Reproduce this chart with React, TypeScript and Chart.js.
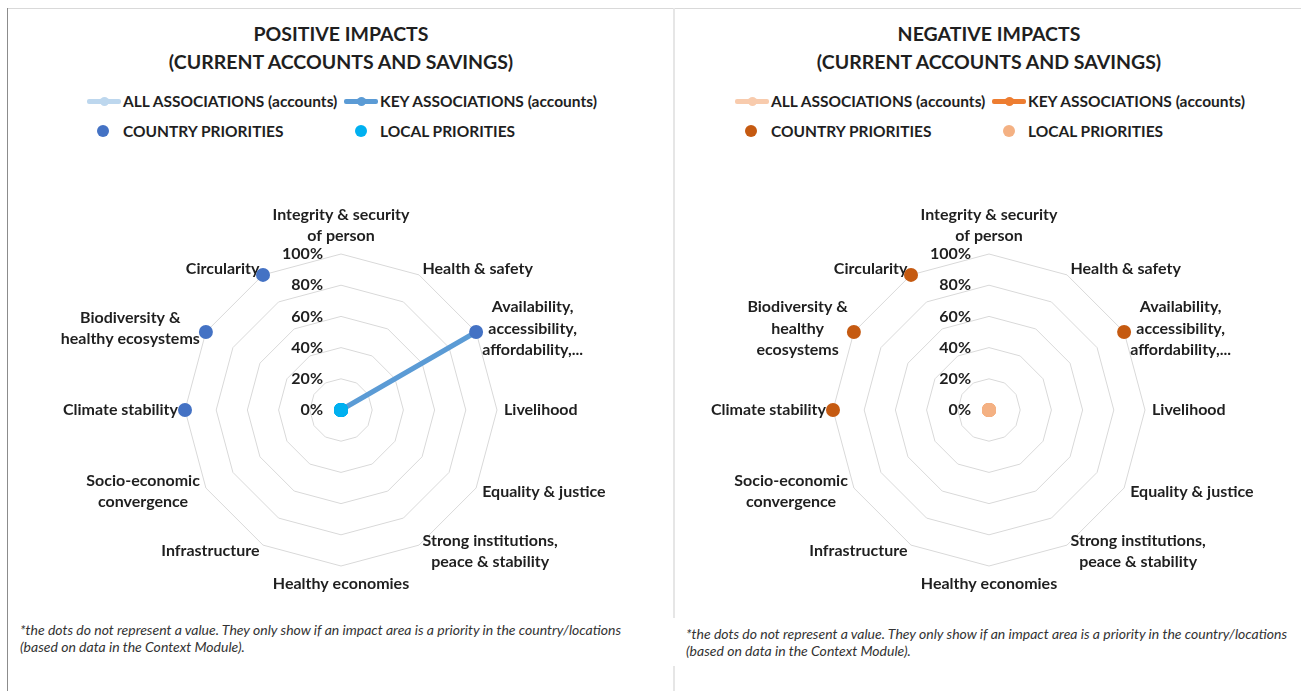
import React, { useEffect, useRef } from "react";
import { Chart, registerables } from "chart.js";

Chart.register(...registerables);

// ---------- data ----------
const CATEGORIES = [
  "Integrity & security of person",
  "Health & safety",
  "Availability, accessibility, affordability,...",
  "Livelihood",
  "Equality & justice",
  "Strong institutions, peace & stability",
  "Healthy economies",
  "Infrastructure",
  "Socio-economic convergence",
  "Climate stability",
  "Biodiversity & healthy ecosystems",
  "Circularity",
];

const LABEL_LINES_POS = [
  ["Integrity & security", "of person"],
  ["Health & safety"],
  ["Availability,", "accessibility,", "affordability,..."],
  ["Livelihood"],
  ["Equality & justice"],
  ["Strong institutions,", "peace & stability"],
  ["Healthy economies"],
  ["Infrastructure"],
  ["Socio-economic", "convergence"],
  ["Climate stability"],
  ["Biodiversity &", "healthy ecosystems"],
  ["Circularity"],
];

const LABEL_LINES_NEG = [
  ["Integrity & security", "of person"],
  ["Health & safety"],
  ["Availability,", "accessibility,", "affordability,..."],
  ["Livelihood"],
  ["Equality & justice"],
  ["Strong institutions,", "peace & stability"],
  ["Healthy economies"],
  ["Infrastructure"],
  ["Socio-economic", "convergence"],
  ["Climate stability"],
  ["Biodiversity &", "healthy", "ecosystems"],
  ["Circularity"],
];

const TICK_VALUES = [0, 20, 40, 60, 80, 100];
const TICK_LABELS = ["0%", "20%", "40%", "60%", "80%", "100%"];

const SERIES_NAMES = [
  "ALL ASSOCIATIONS (accounts)",
  "KEY ASSOCIATIONS (accounts)",
  "COUNTRY PRIORITIES",
  "LOCAL PRIORITIES",
];

const POS_ALL = [0, 0, 0, 0, 0, 0, 0, 0, 0, 0, 0, 0];
const POS_KEY = [0, 0, 100, 0, 0, 0, 0, 0, 0, 0, 0, 0];
const POS_COUNTRY = [null, null, 100, null, null, null, null, null, null, 100, 100, 100];
const POS_LOCAL = [0, 0, 0, 0, 0, 0, 0, 0, 0, 0, 0, 0];

const NEG_ALL = [0, 0, 0, 0, 0, 0, 0, 0, 0, 0, 0, 0];
const NEG_KEY = [0, 0, 0, 0, 0, 0, 0, 0, 0, 0, 0, 0];
const NEG_COUNTRY = [null, null, 100, null, null, null, null, null, null, 100, 100, 100];
const NEG_LOCAL = [0, 0, 0, 0, 0, 0, 0, 0, 0, 0, 0, 0];

const POS_COLORS = ["#BDD7EE", "#5B9BD5", "#4472C4", "#00B0F0"];
const NEG_COLORS = ["#F8CBAD", "#ED7D31", "#C55A11", "#F4B183"];

const TEXT = "#1f1f1f";
const FONT = "Lato, 'Open Sans', sans-serif";

// ---------- plugin drawing tick & point labels through the scale ----------
const radarText = {
  id: "radarText",
  beforeDatasetsDraw(chart: any, _args: any, opts: any) {
    const scale = chart.scales.r;
    const ctx = chart.ctx;
    ctx.save();
    ctx.fillStyle = TEXT;
    ctx.font = `bold 16px ${FONT}`;
    ctx.textBaseline = "middle";
    ctx.textAlign = "right";
    TICK_VALUES.forEach((v, i) => {
      const d = scale.getDistanceFromCenterForValue(v);
      ctx.fillText(TICK_LABELS[i], scale.xCenter - 18, scale.yCenter - d);
    });
    const LH = 21.5;
    const lines: string[][] = opts.lines;
    lines.forEach((ls, i) => {
      const p = scale.getPointPosition(i, scale.drawingArea + 7);
      const deg = Math.round((scale.getIndexAngle(i) * 180) / Math.PI) % 360;
      const bw = Math.max(...ls.map((l) => ctx.measureText(l).width));
      const h = ls.length * LH;
      let cx = p.x;
      let top = p.y - h / 2;
      if (deg === 0) {
        top = p.y - h;
      } else if (deg === 180) {
        top = p.y;
      } else if (deg < 180) {
        cx = p.x + bw / 2;
      } else {
        cx = p.x - bw / 2;
      }
      ctx.textAlign = "center";
      ls.forEach((l, j) => ctx.fillText(l, cx, top + LH * (j + 0.5)));
    });
    ctx.restore();
  },
};

function makeDatasets(values: (number | null)[][], colors: string[]) {
  return [
    {
      label: SERIES_NAMES[0],
      data: values[0],
      borderColor: colors[0],
      backgroundColor: colors[0],
      borderWidth: 5,
      pointRadius: 4,
      pointBackgroundColor: colors[0],
      pointBorderWidth: 0,
      fill: false,
      order: 4,
    },
    {
      label: SERIES_NAMES[1],
      data: values[1],
      borderColor: colors[1],
      backgroundColor: colors[1],
      borderWidth: 5,
      pointRadius: 4,
      pointBackgroundColor: colors[1],
      pointBorderWidth: 0,
      fill: false,
      order: 3,
    },
    {
      label: SERIES_NAMES[2],
      data: values[2],
      showLine: false,
      borderColor: colors[2],
      backgroundColor: colors[2],
      pointRadius: 7,
      pointBackgroundColor: colors[2],
      pointBorderWidth: 0,
      fill: false,
      order: 2,
    },
    {
      label: SERIES_NAMES[3],
      data: values[3],
      showLine: false,
      borderColor: colors[3],
      backgroundColor: colors[3],
      pointRadius: 7,
      pointBackgroundColor: colors[3],
      pointBorderWidth: 0,
      fill: false,
      order: 1,
    },
  ];
}

function RadarCanvas(props: {
  left: number;
  top: number;
  width: number;
  height: number;
  padding: { left: number; right: number; top: number; bottom: number };
  values: (number | null)[][];
  colors: string[];
  lines: string[][];
}) {
  const ref = useRef<HTMLCanvasElement>(null);
  useEffect(() => {
    if (!ref.current) return;
    const chart = new Chart(ref.current, {
      type: "radar",
      data: {
        labels: CATEGORIES,
        datasets: makeDatasets(props.values, props.colors) as any,
      },
      options: {
        animation: false,
        responsive: false,
        maintainAspectRatio: false,
        devicePixelRatio: 1,
        events: [],
        layout: { padding: props.padding },
        plugins: {
          legend: { display: false },
          title: { display: false },
          tooltip: { enabled: false },
          radarText: { lines: props.lines },
        } as any,
        scales: {
          r: {
            min: 0,
            max: 100,
            beginAtZero: true,
            ticks: { display: false, stepSize: 20 },
            grid: { color: "#D9D9D9", lineWidth: 1 },
            angleLines: { display: false },
            pointLabels: { display: false },
          },
        },
      },
      plugins: [radarText],
    });
    return () => chart.destroy();
  }, []);
  return (
    <canvas
      ref={ref}
      width={props.width}
      height={props.height}
      style={{
        position: "absolute",
        left: props.left,
        top: props.top,
        width: props.width,
        height: props.height,
      }}
    />
  );
}

function Panel(props: {
  cx: number;
  title: string[];
  colors: string[];
  noteLeft: number;
  noteTop: number;
}) {
  const { cx, colors } = props;
  const textStyle: React.CSSProperties = {
    position: "absolute",
    fontFamily: FONT,
    fontWeight: 700,
    fontSize: 15.5,
    color: TEXT,
    whiteSpace: "nowrap",
    lineHeight: "20px",
  };
  const lineMarker = (left: number, color: string) => (
    <>
      <div
        style={{
          position: "absolute",
          left,
          top: 101 - 2.5,
          width: 34,
          height: 5,
          background: color,
          borderRadius: 2,
        }}
      />
      <div
        style={{
          position: "absolute",
          left: left + 17 - 4.5,
          top: 101 - 4.5,
          width: 9,
          height: 9,
          background: color,
          borderRadius: "50%",
        }}
      />
    </>
  );
  const dot = (centerX: number, color: string) => (
    <div
      style={{
        position: "absolute",
        left: centerX - 6,
        top: 131 - 6,
        width: 12,
        height: 12,
        background: color,
        borderRadius: "50%",
      }}
    />
  );
  return (
    <>
      <div
        style={{
          position: "absolute",
          left: cx - 300,
          width: 600,
          top: 20,
          textAlign: "center",
          fontFamily: FONT,
          fontWeight: 700,
          fontSize: 19.5,
          lineHeight: "28px",
          color: TEXT,
        }}
      >
        <div>{props.title[0]}</div>
        <div>{props.title[1]}</div>
      </div>
      {lineMarker(cx - 254, colors[0])}
      <div style={{ ...textStyle, left: cx - 218, top: 91 }}>{SERIES_NAMES[0]}</div>
      {lineMarker(cx + 3, colors[1])}
      <div style={{ ...textStyle, left: cx + 39, top: 91 }}>{SERIES_NAMES[1]}</div>
      {dot(cx - 238, colors[2])}
      <div style={{ ...textStyle, left: cx - 218, top: 121 }}>{SERIES_NAMES[2]}</div>
      {dot(cx + 20, colors[3])}
      <div style={{ ...textStyle, left: cx + 39, top: 121 }}>{SERIES_NAMES[3]}</div>
      <div
        style={{
          position: "absolute",
          left: props.noteLeft,
          top: props.noteTop,
          fontFamily: FONT,
          fontStyle: "italic",
          fontSize: 14,
          lineHeight: "17px",
          color: "#333",
          whiteSpace: "nowrap",
        }}
      >
        <div>
          *the dots do not represent a value. They only show if an impact area is a priority in the
          country/locations
        </div>
        <div>(based on data in the Context Module).</div>
      </div>
    </>
  );
}

export default function App() {
  return (
    <div
      style={{
        position: "absolute",
        left: 0,
        top: 0,
        width: 1301,
        height: 691,
        background: "#fff",
        overflow: "hidden",
      }}
    >
      {/* frame lines */}
      <div style={{ position: "absolute", left: 7, top: 8, width: 1294, height: 1, background: "#D9D9D9" }} />
      <div style={{ position: "absolute", left: 7, top: 8, width: 1, height: 683, background: "#8C8C8C" }} />
      <div style={{ position: "absolute", left: 673, top: 8, width: 2, height: 610, background: "#E6E6E6" }} />
      <div style={{ position: "absolute", left: 673, top: 666, width: 2, height: 25, background: "#E6E6E6" }} />

      <RadarCanvas
        left={8}
        top={160}
        width={665}
        height={450}
        padding={{ left: 177, right: 176, top: 94, bottom: 44 }}
        values={[POS_ALL, POS_KEY, POS_COUNTRY, POS_LOCAL]}
        colors={POS_COLORS}
        lines={LABEL_LINES_POS}
      />
      <RadarCanvas
        left={676}
        top={160}
        width={625}
        height={450}
        padding={{ left: 157, right: 156, top: 94, bottom: 44 }}
        values={[NEG_ALL, NEG_KEY, NEG_COUNTRY, NEG_LOCAL]}
        colors={NEG_COLORS}
        lines={LABEL_LINES_NEG}
      />

      <Panel
        cx={341}
        title={["POSITIVE IMPACTS", "(CURRENT ACCOUNTS AND SAVINGS)"]}
        colors={POS_COLORS}
        noteLeft={20}
        noteTop={621}
      />
      <Panel
        cx={989}
        title={["NEGATIVE IMPACTS", "(CURRENT ACCOUNTS AND SAVINGS)"]}
        colors={NEG_COLORS}
        noteLeft={686}
        noteTop={625}
      />
    </div>
  );
}
